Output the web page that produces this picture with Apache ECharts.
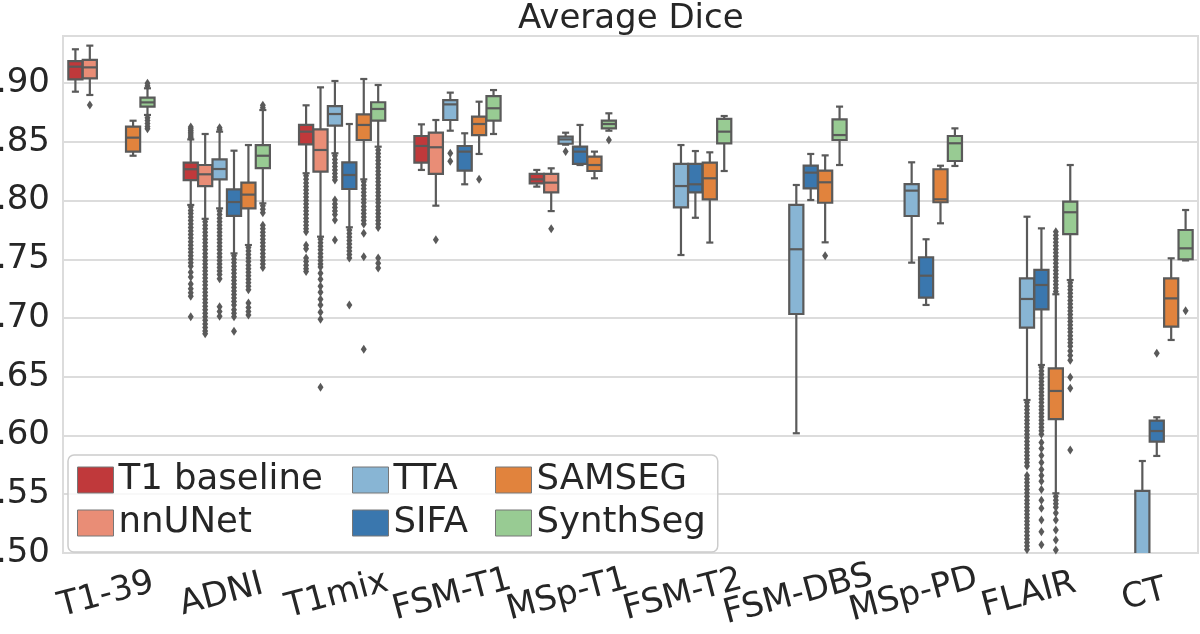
<!DOCTYPE html>
<html>
<head>
<meta charset="utf-8">
<script src="https://cdn.jsdelivr.net/npm/echarts@6/dist/echarts.min.js"></script>
<style>
  html, body { margin: 0; padding: 0; background: #fff; }
  #chart { width: 1200px; height: 634px; }
</style>
</head>
<body>
<div id="chart"></div>
<script>
// ---------------- data ----------------
const categories = ['T1-39', 'ADNI', 'T1mix', 'FSM-T1', 'MSp-T1', 'FSM-T2', 'FSM-DBS', 'MSp-PD', 'FLAIR', 'CT'];
const methods = ['T1 baseline', 'nnUNet', 'TTA', 'SIFA', 'SAMSEG', 'SynthSeg'];
const yTicks = [0.50, 0.55, 0.60, 0.65, 0.70, 0.75, 0.80, 0.85, 0.90];

// box stats: [categoryIndex, lowerWhisker, Q1, median, Q3, upperWhisker]
const t1BaselineBoxes = [
  [0, 0.8926, 0.9031, 0.9139, 0.9187, 0.9287],
  [1, 0.7962, 0.8174, 0.8266, 0.8322, 0.8520],
  [2, 0.8232, 0.8478, 0.8586, 0.8643, 0.8810],
  [3, 0.8260, 0.8322, 0.8464, 0.8549, 0.8648],
  [4, 0.8118, 0.8146, 0.8180, 0.8226, 0.8260]
];
const nnUNetBoxes = [
  [0, 0.8898, 0.9040, 0.9133, 0.9196, 0.9318],
  [1, 0.7844, 0.8123, 0.8223, 0.8302, 0.8566],
  [2, 0.7692, 0.8245, 0.8430, 0.8606, 0.8963],
  [3, 0.7956, 0.8226, 0.8453, 0.8577, 0.8685],
  [4, 0.7910, 0.8070, 0.8152, 0.8226, 0.8274]
];
const ttaBoxes = [
  [1, 0.7933, 0.8180, 0.8268, 0.8350, 0.8586],
  [2, 0.8402, 0.8637, 0.8736, 0.8804, 0.9017],
  [3, 0.8594, 0.8685, 0.8818, 0.8855, 0.8918],
  [4, 0.8475, 0.8483, 0.8520, 0.8544, 0.8577],
  [5, 0.7536, 0.7942, 0.8123, 0.8311, 0.8472],
  [6, 0.6019, 0.7034, 0.7585, 0.7962, 0.8132],
  [7, 0.7471, 0.7868, 0.8084, 0.8140, 0.8325],
  [8, 0.6302, 0.6918, 0.7162, 0.7338, 0.7862],
  [9, 0.4300, 0.4600, 0.4900, 0.5528, 0.5783]
];
const sifaBoxes = [
  [1, 0.7550, 0.7870, 0.7987, 0.8095, 0.8424],
  [2, 0.7772, 0.8098, 0.8217, 0.8325, 0.8651],
  [3, 0.8138, 0.8254, 0.8416, 0.8464, 0.8572],
  [4, 0.8302, 0.8311, 0.8416, 0.8458, 0.8643],
  [5, 0.7853, 0.8070, 0.8138, 0.8311, 0.8421],
  [6, 0.8004, 0.8104, 0.8237, 0.8296, 0.8396],
  [7, 0.7111, 0.7173, 0.7360, 0.7517, 0.7670],
  [8, 0.6600, 0.7074, 0.7281, 0.7409, 0.7763],
  [9, 0.5826, 0.5948, 0.6038, 0.6126, 0.6155]
];
const samsegBoxes = [
  [0, 0.8381, 0.8416, 0.8535, 0.8628, 0.8679],
  [1, 0.7621, 0.7933, 0.8050, 0.8152, 0.8472],
  [2, 0.8180, 0.8515, 0.8643, 0.8733, 0.9034],
  [3, 0.8396, 0.8557, 0.8651, 0.8713, 0.8841],
  [4, 0.8189, 0.8251, 0.8302, 0.8374, 0.8416],
  [5, 0.7642, 0.8010, 0.8189, 0.8322, 0.8410],
  [6, 0.7644, 0.7981, 0.8155, 0.8254, 0.8384],
  [7, 0.7806, 0.7985, 0.8010, 0.8266, 0.8296],
  [8, 0.5508, 0.6140, 0.6379, 0.6572, 0.7202],
  [9, 0.6813, 0.6926, 0.7167, 0.7338, 0.7508]
];
const synthSegBoxes = [
  [0, 0.8728, 0.8799, 0.8835, 0.8875, 0.8955],
  [1, 0.7976, 0.8276, 0.8381, 0.8472, 0.8770],
  [2, 0.8458, 0.8679, 0.8779, 0.8836, 0.8983],
  [3, 0.8566, 0.8679, 0.8785, 0.8889, 0.8940],
  [4, 0.8594, 0.8614, 0.8651, 0.8679, 0.8742],
  [5, 0.8251, 0.8487, 0.8586, 0.8694, 0.8719],
  [6, 0.8302, 0.8515, 0.8557, 0.8691, 0.8799],
  [7, 0.8294, 0.8336, 0.8487, 0.8549, 0.8614],
  [8, 0.7323, 0.7713, 0.7900, 0.7990, 0.8302],
  [9, 0.7490, 0.7500, 0.7593, 0.7749, 0.7919]
];

// outliers: [categoryIndex, [values]]
const t1BaselineOutliers = [
  [1, [0.8625, 0.861, 0.8595, 0.858, 0.8565, 0.855, 0.8535, 0.7945, 0.7915, 0.789, 0.786, 0.783, 0.780, 0.777, 0.774, 0.771, 0.768, 0.765, 0.762, 0.759, 0.756, 0.753, 0.750, 0.747, 0.744, 0.739, 0.735, 0.729, 0.725, 0.7215, 0.7185, 0.701]],
  [2, [0.821, 0.818, 0.815, 0.812, 0.809, 0.806, 0.803, 0.800, 0.797, 0.794, 0.791, 0.788, 0.785, 0.782, 0.779, 0.776, 0.7735, 0.762, 0.759, 0.751, 0.748, 0.745, 0.742, 0.7395]]
];
const nnUNetOutliers = [
  [0, [0.8813]],
  [1, [0.782, 0.779, 0.776, 0.773, 0.770, 0.767, 0.764, 0.761, 0.758, 0.755, 0.752, 0.749, 0.746, 0.743, 0.740, 0.737, 0.734, 0.731, 0.728, 0.725, 0.722, 0.719, 0.716, 0.713, 0.710, 0.707, 0.704, 0.701, 0.698, 0.695, 0.692, 0.689, 0.6865]],
  [2, [0.767, 0.764, 0.761, 0.758, 0.755, 0.752, 0.749, 0.746, 0.7435, 0.738, 0.733, 0.727, 0.722, 0.716, 0.711, 0.705, 0.699, 0.641]],
  [3, [0.7666]],
  [4, [0.776]]
];
const ttaOutliers = [
  [1, [0.862, 0.8605, 0.791, 0.788, 0.785, 0.782, 0.779, 0.776, 0.773, 0.770, 0.767, 0.764, 0.761, 0.758, 0.755, 0.752, 0.749, 0.746, 0.743, 0.740, 0.737, 0.7335, 0.7096, 0.7055, 0.7015]],
  [2, [0.838, 0.835, 0.832, 0.829, 0.826, 0.823, 0.820, 0.8175, 0.8004, 0.797, 0.794, 0.791, 0.788, 0.7834, 0.7664]],
  [3, [0.8402, 0.8335]],
  [4, [0.8416]],
  [8, [0.628, 0.625, 0.622, 0.619, 0.616, 0.613, 0.610, 0.607, 0.604, 0.601, 0.598, 0.595, 0.592, 0.589, 0.586, 0.583, 0.580, 0.577, 0.574, 0.566, 0.563, 0.560, 0.557, 0.554, 0.551, 0.548, 0.545, 0.542, 0.539, 0.536, 0.533, 0.530, 0.527, 0.524, 0.521, 0.518, 0.515, 0.512, 0.509, 0.506, 0.503]]
];
const sifaOutliers = [
  [1, [0.753, 0.750, 0.747, 0.744, 0.741, 0.738, 0.735, 0.732, 0.729, 0.726, 0.723, 0.720, 0.717, 0.714, 0.711, 0.707, 0.704, 0.701, 0.6888]],
  [2, [0.775, 0.772, 0.769, 0.766, 0.763, 0.760, 0.757, 0.754, 0.751, 0.7111]],
  [8, [0.658, 0.655, 0.652, 0.649, 0.646, 0.643, 0.640, 0.637, 0.634, 0.631, 0.628, 0.625, 0.622, 0.619, 0.616, 0.613, 0.610, 0.607, 0.604, 0.601, 0.594, 0.589, 0.583, 0.577, 0.571, 0.566, 0.561, 0.554, 0.545, 0.538, 0.528, 0.518, 0.507]],
  [9, [0.670]]
];
const samsegOutliers = [
  [1, [0.760, 0.757, 0.754, 0.751, 0.748, 0.745, 0.742, 0.739, 0.736, 0.733, 0.730, 0.727, 0.724, 0.7128, 0.709, 0.7055, 0.7025]],
  [2, [0.816, 0.813, 0.810, 0.807, 0.804, 0.801, 0.798, 0.795, 0.792, 0.789, 0.786, 0.783, 0.780, 0.7721, 0.7522, 0.6734]],
  [3, [0.818]],
  [6, [0.753]],
  [8, [0.7735, 0.7705, 0.7675, 0.7645, 0.7615, 0.7585, 0.7555, 0.7525, 0.7495, 0.7465, 0.7435, 0.7405, 0.7375, 0.7345, 0.7315, 0.7285, 0.7255, 0.7225, 0.548, 0.545, 0.542, 0.539, 0.534, 0.528, 0.5196, 0.511, 0.5026]]
];
const synthSegOutliers = [
  [0, [0.8997, 0.8975, 0.8705, 0.868, 0.8655, 0.863, 0.861]],
  [1, [0.881, 0.879, 0.7955, 0.7925, 0.7895, 0.779, 0.776, 0.773, 0.770, 0.767, 0.764, 0.761, 0.758, 0.755, 0.752, 0.749, 0.746, 0.743]],
  [2, [0.843, 0.840, 0.837, 0.834, 0.831, 0.828, 0.825, 0.822, 0.819, 0.816, 0.813, 0.810, 0.807, 0.804, 0.801, 0.798, 0.795, 0.792, 0.789, 0.786, 0.783, 0.780, 0.777, 0.751, 0.7465, 0.7425]],
  [4, [0.8515]],
  [8, [0.730, 0.727, 0.724, 0.721, 0.718, 0.715, 0.712, 0.709, 0.706, 0.703, 0.700, 0.697, 0.694, 0.691, 0.688, 0.685, 0.682, 0.679, 0.676, 0.672, 0.668, 0.664, 0.6495, 0.6402, 0.5877]],
  [9, [0.7062]]
];

// ---------------- styling ----------------
const methodBoxes = [t1BaselineBoxes, nnUNetBoxes, ttaBoxes, sifaBoxes, samsegBoxes, synthSegBoxes];
const methodOutliers = [t1BaselineOutliers, nnUNetOutliers, ttaOutliers, sifaOutliers, samsegOutliers, synthSegOutliers];
const colors = ['#c0393b', '#e98d76', '#88b5d4', '#3a77ae', '#e1833d', '#98cb93'];
const EDGE = '#5a5a5a';
const SLOT = 0.125;            // dodge width per hue (seaborn width 0.75 / 6)
const FONT = 'DejaVu Sans';
const TEXT = '#262626';
const LW = 2.2;

function dodge(m) { return (m - (methods.length - 1) / 2) * SLOT; }

function renderBox(params, api) {
  const x = api.value(0);
  const pLo = api.coord([x, api.value(1)]);
  const yQ1 = api.coord([x, api.value(2)])[1];
  const yMed = api.coord([x, api.value(3)])[1];
  const yQ3 = api.coord([x, api.value(4)])[1];
  const yHi = api.coord([x, api.value(5)])[1];
  const cx = pLo[0], yLo = pLo[1];
  const w = api.size([SLOT, 0])[0] * 0.98;
  const ls = { stroke: EDGE, lineWidth: LW };
  return {
    type: 'group',
    children: [
      { type: 'line', shape: { x1: cx, y1: yQ1, x2: cx, y2: yLo }, style: ls },
      { type: 'line', shape: { x1: cx, y1: yQ3, x2: cx, y2: yHi }, style: ls },
      { type: 'line', shape: { x1: cx - w / 4, y1: yLo, x2: cx + w / 4, y2: yLo }, style: ls },
      { type: 'line', shape: { x1: cx - w / 4, y1: yHi, x2: cx + w / 4, y2: yHi }, style: ls },
      { type: 'rect', shape: { x: cx - w / 2, y: yQ3, width: w, height: yQ1 - yQ3 },
        style: { fill: api.visual('color'), stroke: EDGE, lineWidth: LW } },
      { type: 'line', shape: { x1: cx - w / 2, y1: yMed, x2: cx + w / 2, y2: yMed }, style: ls }
    ]
  };
}

const series = [];
methods.forEach((name, m) => {
  series.push({
    name: name,
    type: 'custom',
    renderItem: renderBox,
    clip: true,
    itemStyle: { color: colors[m] },
    encode: { x: 0, y: [1, 2, 3, 4, 5] },
    data: methodBoxes[m].map(b => [b[0] + dodge(m), b[1], b[2], b[3], b[4], b[5]]),
    z: 2
  });
});
methods.forEach((name, m) => {
  const pts = [];
  methodOutliers[m].forEach(([c, vals]) => vals.forEach(v => pts.push([c + dodge(m), v])));
  series.push({
    name: name + ' outliers',
    type: 'scatter',
    symbol: 'diamond',
    symbolSize: [6, 9],
    itemStyle: { color: EDGE, opacity: 1 },
    clip: true,
    silent: true,
    data: pts,
    z: 3
  });
});

const legendText = { fontFamily: FONT, fontSize: 35.5, color: TEXT, lineHeight: 34 };
const legendCommon = {
  orient: 'vertical',
  icon: 'rect',
  itemWidth: 36,
  itemHeight: 26,
  itemGap: 7,
  textStyle: legendText,
  itemStyle: { borderColor: '#777', borderWidth: 1 }
};

const option = {
  animation: false,
  backgroundColor: '#ffffff',
  title: {
    text: 'Average Dice',
    left: 518,
    top: 2,
    padding: 0,
    textStyle: { fontFamily: FONT, fontSize: 34, fontWeight: 'normal', color: TEXT }
  },
  grid: {
    left: 63, right: 2, top: 36, bottom: 81,
    outerBoundsMode: 'none',
    containLabel: false,
    show: true, borderColor: '#dcdcdc', borderWidth: 2, backgroundColor: 'transparent'
  },
  legend: [
    Object.assign({}, legendCommon, {
      data: [methods[0], methods[1]],
      left: 68, top: 455,
      padding: [7, 395, 11, 9],
      backgroundColor: 'rgba(255,255,255,0.8)',
      borderColor: '#cccccc', borderWidth: 1.5, borderRadius: 6
    }),
    Object.assign({}, legendCommon, {
      data: [methods[2], methods[3]],
      left: 352, top: 462, padding: 0
    }),
    Object.assign({}, legendCommon, {
      data: [methods[4], methods[5]],
      left: 495, top: 462, padding: 0
    })
  ],
  xAxis: {
    type: 'value',
    min: -0.42,
    max: 9.42,
    axisLine: { show: false },
    axisTick: { show: false },
    splitLine: { show: false },
    axisLabel: {
      customValues: categories.map((c, i) => i),
      formatter: v => categories[Math.round(v)],
      rotate: 15,
      align: 'center',
      verticalAlign: 'top',
      margin: 23,
      padding: [0, 20, 0, 0],
      fontFamily: FONT,
      fontSize: 34,
      color: TEXT
    }
  },
  yAxis: {
    type: 'value',
    min: 0.5,
    max: 0.94,
    interval: 0.05,
    axisLine: { show: false },
    axisTick: { show: false },
    splitLine: { lineStyle: { color: '#dcdcdc', width: 2 } },
    axisLabel: {
      customValues: yTicks,
      formatter: v => '.' + String(Math.round(v * 100)).padStart(2, '0'),
      margin: 13,
      fontFamily: FONT,
      fontSize: 34,
      color: TEXT
    }
  },
  series: series
};

const chart = echarts.init(document.getElementById('chart'), null, { renderer: 'canvas' });
chart.setOption(option);
</script>
</body>
</html>
